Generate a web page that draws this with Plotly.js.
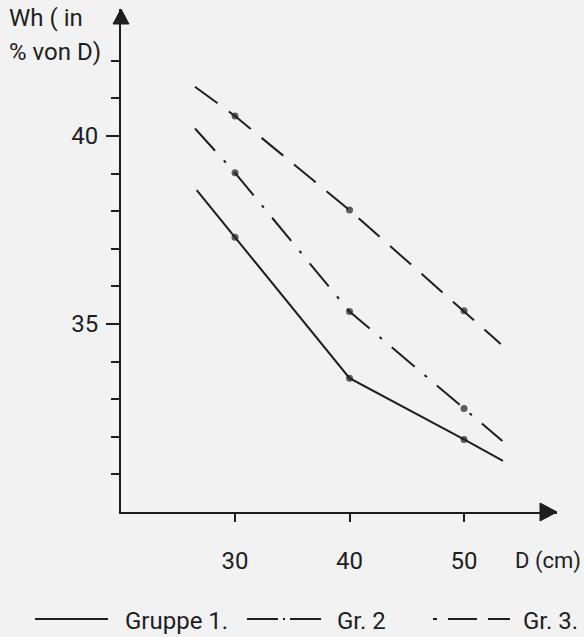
<!DOCTYPE html>
<html>
<head>
<meta charset="utf-8">
<script src="https://cdn.plot.ly/plotly-3.0.1.min.js"></script>
<style>
  html, body { margin: 0; padding: 0; background: #f2f2f2; }
  #chart { width: 584px; height: 637px; }
</style>
</head>
<body>
<div id="chart"></div>
<script>
// ---- data ----
const seriesNames = ["Gruppe 1.", "Gr. 2", "Gr. 3."];
const g1X = [26.65, 30, 40, 50, 53.4];
const g1Y = [38.56, 37.31, 33.56, 31.93, 31.36];
const g2X = [26.5, 30, 40, 50, 53.35];
const g2Y = [40.2, 39.02, 35.33, 32.75, 31.89];
const g3X = [26.5, 30, 40, 50, 53.2];
const g3Y = [41.31, 40.53, 38.03, 35.35, 34.47];
const xTickVals = [30, 40, 50];
const yMajorTicks = [35, 40];
const yMinorTicks = [31, 32, 33, 34, 36, 37, 38, 39, 41, 42];
const yTitleLines = ["Wh ( in", "% von D)"];
const xTitle = "D (cm)";

// ---- layout geometry ----
const W = 584, H = 637;
const M = { l: 121, r: 27, t: 9, b: 125 };
const PW = W - M.l - M.r, PH = H - M.t - M.b;
const px = x => (x - M.l) / PW;          // pixel -> paper x
const py = y => (H - M.b - y) / PH;      // pixel -> paper y
const INK = "#1e1e1e";
const FONT = "Roboto, 'DejaVu Sans', sans-serif";

const dashes = ["solid", "30px,13px,3px,13px", "28px,14px"];
const xs = [g1X, g2X, g3X], ys = [g1Y, g2Y, g3Y];

const traces = xs.map((x, i) => ({
  type: "scatter",
  mode: "lines+markers",
  name: seriesNames[i],
  x: x,
  y: ys[i],
  line: { color: INK, width: 2, dash: dashes[i] },
  marker: { color: INK, size: x.map(v => (v % 10 === 0 ? 7 : 0)), line: { width: 0 } },
  showlegend: false,
  hoverinfo: "skip",
  cliponaxis: false
}));

const shapes = [
  // y-axis arrow head
  { type: "path", xref: "paper", yref: "paper",
    path: `M ${px(113)} ${py(24)} L ${px(121)} ${py(9)} L ${px(129)} ${py(24)} Z`,
    fillcolor: INK, line: { color: INK, width: 1 }, layer: "above" },
  // x-axis arrow head
  { type: "path", xref: "paper", yref: "paper",
    path: `M ${px(540)} ${py(503)} L ${px(557)} ${py(512)} L ${px(540)} ${py(521)} Z`,
    fillcolor: INK, line: { color: INK, width: 1 }, layer: "above" },
  // legend keys
  { type: "line", xref: "paper", yref: "paper", x0: px(35), x1: px(108), y0: py(619), y1: py(619),
    line: { color: INK, width: 2, dash: "solid" } },
  { type: "line", xref: "paper", yref: "paper", x0: px(247), x1: px(323), y0: py(619), y1: py(619),
    line: { color: INK, width: 2, dash: "31px,5px,2px,5px" } },
  { type: "line", xref: "paper", yref: "paper", x0: px(433), x1: px(510), y0: py(619), y1: py(619),
    line: { color: INK, width: 2, dash: "4px,11px,29px,11px,22px,60px" } }
];

const textFont = { family: FONT, size: 24, color: INK };
const ann = (text, x, y, size) => ({
  text: text, xref: "paper", yref: "paper", x: px(x), y: py(y),
  xanchor: "left", yanchor: "middle", showarrow: false,
  font: { family: FONT, size: size || 24, color: INK }
});

const annotations = [
  ann(yTitleLines[0], 7, 18),
  ann(yTitleLines[1], 7, 52),
  ann(xTitle, 513, 561, 22),
  ann(seriesNames[0], 123, 621),
  ann(seriesNames[1], 335, 621),
  ann(seriesNames[2], 521, 621)
];

const layout = {
  width: W, height: H,
  margin: M,
  paper_bgcolor: "#f2f2f2",
  plot_bgcolor: "#f2f2f2",
  font: { family: FONT, size: 24, color: INK },
  xaxis: {
    range: [20.04, 58.12],
    showgrid: false, zeroline: false,
    showline: true, linecolor: INK, linewidth: 2,
    tickmode: "array", tickvals: xTickVals,
    ticks: "outside", ticklen: 8, tickwidth: 2, tickcolor: INK,
    ticklabelstandoff: 18,
    tickfont: { family: FONT, size: 24, color: INK }
  },
  yaxis: {
    range: [30, 43.378],
    showgrid: false, zeroline: false,
    showline: true, linecolor: INK, linewidth: 2,
    tickmode: "array", tickvals: yMajorTicks,
    ticks: "outside", ticklen: 13, tickwidth: 2, tickcolor: INK,
    ticklabelstandoff: 3,
    tickfont: { family: FONT, size: 24, color: INK },
    minor: { tickmode: "array", tickvals: yMinorTicks, ticks: "outside",
             ticklen: 8, tickwidth: 2, tickcolor: INK, showgrid: false }
  },
  shapes: shapes,
  annotations: annotations,
  showlegend: false
};

Plotly.newPlot("chart", traces, layout, { staticPlot: true, displayModeBar: false });
</script>
</body>
</html>
